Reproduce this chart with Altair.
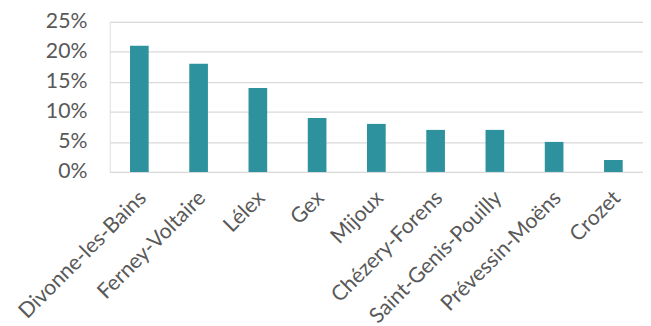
import altair as alt
import pandas as pd

communes = ["Divonne-les-Bains", "Ferney-Voltaire", "Lélex", "Gex", "Mijoux",
            "Chézery-Forens", "Saint-Genis-Pouilly", "Prévessin-Moëns", "Crozet"]
shares = [0.21, 0.18, 0.14, 0.09, 0.08, 0.07, 0.07, 0.05, 0.02]
y_ticks = [0, 0.05, 0.10, 0.15, 0.20, 0.25]

df = pd.DataFrame({"commune": communes, "share": shares})

FONT = "Lato"
GREY = "#595959"

chart = alt.Chart(df).mark_bar(color="#2E929E").encode(
    x=alt.X("commune:N", sort=communes, title=None,
            scale=alt.Scale(paddingInner=0.685, paddingOuter=0.3425),
            axis=alt.Axis(labelAngle=-45, labelAlign="right", labelBaseline="middle",
                          labelPadding=23, labelOffset=4, ticks=False, domain=False,
                          labelFont=FONT, labelFontSize=21.5, labelColor=GREY,
                          labelOverlap=False)),
    y=alt.Y("share:Q", title=None,
            scale=alt.Scale(domain=[0, 0.25], nice=False),
            axis=alt.Axis(values=y_ticks, format=".0%", ticks=False, domain=False,
                          labelPadding=23, labelFont=FONT, labelFontSize=21.5,
                          labelColor=GREY, gridColor="#D9D9D9", gridWidth=1.3)),
).properties(
    width=540, height=152,
    autosize=alt.AutoSizeParams(type="none"),
    padding={"left": 103, "top": 12, "right": 0, "bottom": 154},
).configure_view(stroke=None).configure(background="white")

chart.save("out.html", embed_options={"renderer": "svg", "actions": False})
